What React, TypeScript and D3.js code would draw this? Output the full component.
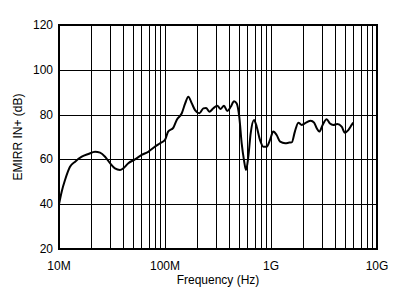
import React from "react";
import * as d3 from "d3";

const freqHz = [
  1.0e7, 1.06e7, 1.14e7, 1.27e7, 1.42e7, 1.64e7, 1.89e7, 2.19e7, 2.44e7, 2.72e7,
  3.03e7, 3.37e7, 3.76e7, 4.04e7, 4.51e7, 5.21e7, 6.03e7, 6.95e7, 8.05e7, 8.97e7,
  1.0e8, 1.07e8, 1.2e8, 1.29e8, 1.44e8, 1.55e8, 1.66e8, 1.79e8, 1.92e8, 2.11e8,
  2.3e8, 2.44e8, 2.62e8, 2.86e8, 3.11e8, 3.35e8, 3.6e8, 3.87e8, 4.17e8, 4.48e8,
  4.75e8, 5.02e8, 5.29e8, 5.56e8, 5.81e8, 6.11e8, 6.43e8, 6.91e8, 7.33e8, 7.87e8,
  8.46e8, 9.1e8, 9.79e8, 1.05e9, 1.13e9, 1.22e9, 1.36e9, 1.49e9, 1.57e9, 1.68e9,
  1.81e9, 1.95e9, 2.14e9, 2.37e9, 2.55e9, 2.7e9, 2.86e9, 3.07e9, 3.35e9, 3.6e9,
  3.87e9, 4.22e9, 4.64e9, 4.99e9, 5.36e9, 5.77e9, 5.97e9,
];
const emirrDb = [
  40, 45.6, 50.8, 56.7, 59, 61.2, 62.4, 63.4, 63, 61.2,
  58.3, 56, 55.3, 56, 58.3, 60, 62, 63.4, 65.7, 67.2,
  68.7, 72.4, 74.2, 77.6, 80.6, 85, 88, 85, 82, 80.6,
  82.8, 83, 81.3, 82.8, 84, 82.5, 84, 81.6, 83.5, 86,
  85, 79, 67.2, 59.7, 55.3, 61.2, 71.6, 77.6, 74.6, 68.7,
  65.7, 65.7, 68.7, 72.4, 70.9, 67.9, 67.2, 67.5, 67.6, 72.4,
  76.4, 75.4, 76.4, 77.3, 76.4, 73.9, 72.4, 75.4, 77.9, 76,
  75.4, 75.8, 74.6, 71.9, 73.1, 75.4, 76.4,
];
const xTickValues = [1e7, 1e8, 1e9, 1e10];
const xTickLabels = ["10M", "100M", "1G", "10G"];
const yTickValues = [20, 40, 60, 80, 100, 120];

const W = 394, H = 298;
const L = 59, R = 377, T = 25, B = 249;
const font = "'Liberation Sans', Arial, sans-serif";

export default function App() {
  const x = d3.scaleLog().domain([1e7, 1e10]).range([L, R]);
  const y = d3.scaleLinear().domain([20, 120]).range([B, T]);
  const minor: number[] = [];
  for (const dec of [1e7, 1e8, 1e9]) for (let k = 2; k <= 9; k++) minor.push(dec * k);
  const line = d3.line<number>().x((_, i) => x(freqHz[i])).y((d) => y(d)).curve(d3.curveMonotoneX);
  return (
    <svg width={W} height={H} style={{ position: "absolute", left: 0, top: 0, background: "#fff" }}>
      <g stroke="#000" strokeWidth={1} shapeRendering="crispEdges">
        {[...minor, ...xTickValues].map((v, i) => (
          <line key={"v" + i} x1={Math.round(x(v)) + 0.5} x2={Math.round(x(v)) + 0.5} y1={T} y2={B} />
        ))}
        {yTickValues.map((v, i) => (
          <line key={"h" + i} x1={L} x2={R} y1={Math.round(y(v)) + 0.5} y2={Math.round(y(v)) + 0.5} />
        ))}
      </g>
      <path d={line(emirrDb) || ""} fill="none" stroke="#000" strokeWidth={2} strokeLinejoin="round" />
      <rect x={L} y={T} width={R - L} height={B - T} fill="none" stroke="#000" strokeWidth={2} />
      <g fontFamily={font} fontSize={12} fill="#000">
        {yTickValues.map((v, i) => (
          <text key={"yl" + i} x={L - 6} y={y(v)} textAnchor="end" dominantBaseline="central">{v}</text>
        ))}
        {xTickValues.map((v, i) => (
          <text key={"xl" + i} x={x(v)} y={266} textAnchor="middle" dominantBaseline="central">{xTickLabels[i]}</text>
        ))}
        <text x={218} y={279.5} textAnchor="middle" dominantBaseline="central">Frequency (Hz)</text>
        <text transform={`translate(18,${(T + B) / 2}) rotate(-90)`} textAnchor="middle" dominantBaseline="central">EMIRR IN+ (dB)</text>
      </g>
    </svg>
  );
}
